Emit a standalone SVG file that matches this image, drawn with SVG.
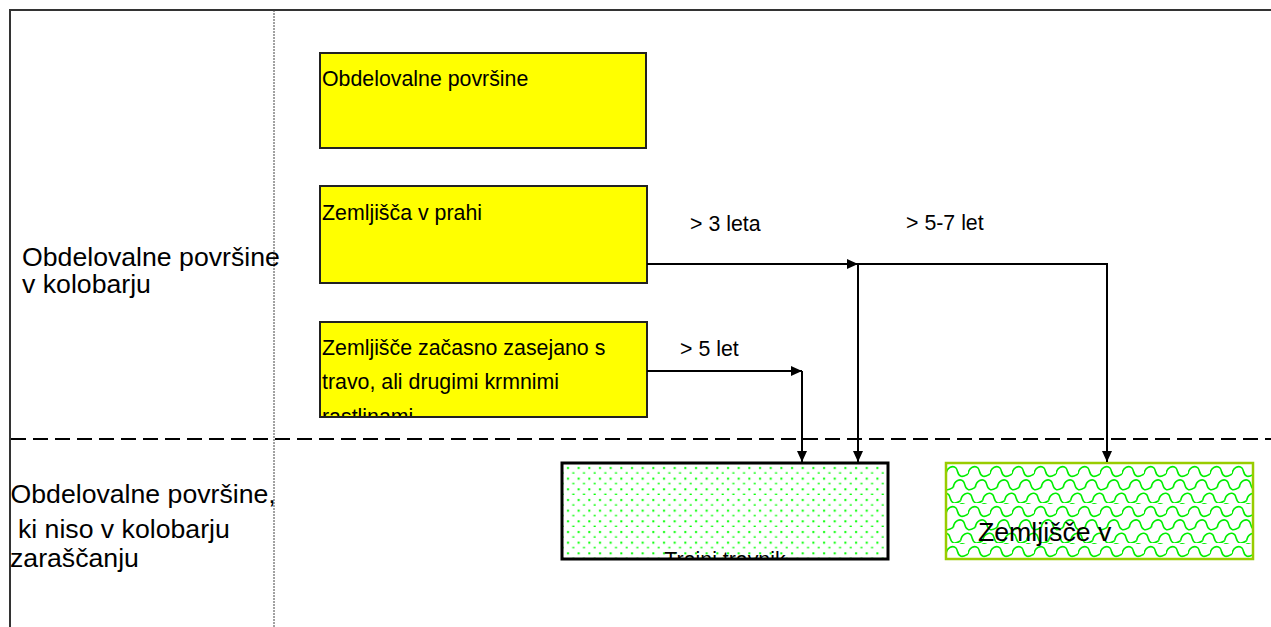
<svg xmlns="http://www.w3.org/2000/svg" xmlns:xlink="http://www.w3.org/1999/xlink" width="1271" height="627" viewBox="0 0 1271 627">
<style>
.lbl{font-family:"Liberation Sans",Arial,sans-serif;font-size:26.67px;fill:#000}
.t{font-family:"Liberation Sans",Arial,sans-serif;font-size:21.33px;fill:#000}
.ybox{fill:#ffff00;stroke:#222;stroke-width:2}
.con{fill:none;stroke:#000;stroke-width:2}
.sc{fill:none;stroke:#00ee00;stroke-width:1.6}
</style>
<defs>
<marker id="ah" markerUnits="userSpaceOnUse" markerWidth="12" markerHeight="10" refX="11" refY="5" orient="auto">
<path d="M0,0 L11,5 L0,10 z" fill="#000"/>
</marker>
<pattern id="dots" patternUnits="userSpaceOnUse" x="562" y="463" width="10.67" height="10.67">
<rect x="5" y="4" width="2" height="2" fill="#00ff00"/>
<rect x="10.3" y="9.3" width="2" height="2" fill="#00ff00"/>
<rect x="-0.3" y="9.3" width="2" height="2" fill="#00ff00"/>
</pattern>
<path id="row" class="sc" d="M0,11 C1,4 7,2 10,5 C12,7 11,12 15,13.3 C18,14 20,12 22,11"/>
<pattern id="scales" patternUnits="userSpaceOnUse" x="946" y="463" width="22" height="40">
<use xlink:href="#row" href="#row"/>
<use xlink:href="#row" href="#row" transform="translate(-22,0)"/>
<use xlink:href="#row" href="#row" transform="translate(7.33,13.33)"/>
<use xlink:href="#row" href="#row" transform="translate(-14.67,13.33)"/>
<use xlink:href="#row" href="#row" transform="translate(14.67,26.67)"/>
<use xlink:href="#row" href="#row" transform="translate(-7.33,26.67)"/>
<use xlink:href="#row" href="#row" transform="translate(0,-13.33)"/>
<use xlink:href="#row" href="#row" transform="translate(-22,-13.33)"/>
<use xlink:href="#row" href="#row" transform="translate(-14.67,-26.67)"/>
<use xlink:href="#row" href="#row" transform="translate(7.33,40)"/>
<use xlink:href="#row" href="#row" transform="translate(-14.67,40)"/>
</pattern>
<clipPath id="c3"><rect x="321" y="322" width="325" height="94"/></clipPath>
<clipPath id="c4"><rect x="563" y="464" width="324" height="94"/></clipPath>
</defs>

<g id="frame">
<line x1="10" y1="10" x2="1271" y2="10" stroke="#333" stroke-width="2"/>
<line x1="10" y1="9" x2="10" y2="627" stroke="#333" stroke-width="2"/>
<line x1="274" y1="10" x2="274" y2="627" stroke="#444" stroke-width="1" stroke-dasharray="2,1"/>
<line x1="11" y1="439" x2="1271" y2="439" stroke="#000" stroke-width="1.8" stroke-dasharray="15,7"/>
</g>

<g id="label-top">
<text class="lbl" x="22" y="265.5">Obdelovalne površine</text>
<text class="lbl" x="22" y="293">v kolobarju</text>
</g>
<g id="label-bottom">
<text class="lbl" x="10.5" y="503">Obdelovalne površine,</text>
<text class="lbl" x="10.5" y="538" xml:space="preserve"> ki niso v kolobarju</text>
<text class="lbl" x="10" y="567">zaraščanju</text>
</g>

<g id="box-obdelovalne">
<rect class="ybox" x="320" y="53" width="326" height="95"/>
<text class="t" x="322" y="86">Obdelovalne površine</text>
</g>
<g id="box-praha">
<rect class="ybox" x="320" y="186" width="327" height="97"/>
<text class="t" x="322" y="220">Zemljišča v prahi</text>
</g>
<g id="box-zasejano">
<rect class="ybox" x="320" y="322" width="327" height="95"/>
<g clip-path="url(#c3)">
<text class="t" x="322" y="355">Zemljišče začasno zasejano s</text>
<text class="t" x="322" y="389">travo, ali drugimi krmnimi</text>
<text class="t" x="322" y="424">rastlinami</text>
</g>
</g>
<g id="box-trajni">
<rect x="562" y="463" width="326" height="96" fill="#fff"/>
<rect x="562" y="463" width="326" height="96" fill="url(#dots)" stroke="#000" stroke-width="3"/>
<g clip-path="url(#c4)">
<text class="t" x="725" y="567" text-anchor="middle">Trajni travnik</text>
</g>
</g>
<g id="box-zarascanje">
<rect x="946" y="463" width="307" height="96" fill="#fff"/>
<rect x="946" y="463" width="307" height="96" fill="url(#scales)" stroke="#99cc00" stroke-width="2.5"/>
<text class="lbl" x="978" y="541">Zemljišče v</text>
</g>

<g id="connectors">
<line class="con" x1="647" y1="264" x2="858" y2="264" marker-end="url(#ah)"/>
<polyline class="con" points="858,264 1107,264 1107,462" marker-end="url(#ah)"/>
<line class="con" x1="858" y1="264" x2="858" y2="462" marker-end="url(#ah)"/>
<line class="con" x1="647" y1="371" x2="802" y2="371" marker-end="url(#ah)"/>
<line class="con" x1="802" y1="371" x2="802" y2="462" marker-end="url(#ah)"/>
<text class="t" x="690" y="231">&gt; 3 leta</text>
<text class="t" x="906" y="230">&gt; 5-7 let</text>
<text class="t" x="680" y="356">&gt; 5 let</text>
</g>
</svg>
